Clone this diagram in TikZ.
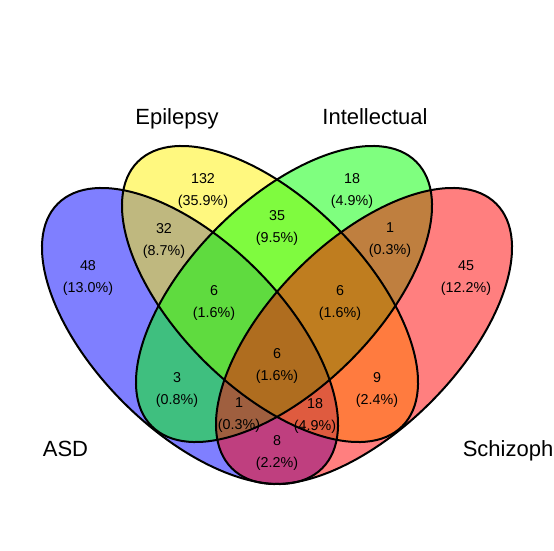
\documentclass[tikz,border=0pt]{standalone}
\usepackage{fontspec}
\setmainfont{Liberation Sans}
\usetikzlibrary{positioning}
\tikzset{venn/.style = {fill opacity=0.5},
         rim/.style = {line width=2pt},
         count/.style = {align=center, inner sep=0pt,
                         font=\fontsize{14.3}{22}\selectfont},
         setname/.style = {inner sep=0pt, anchor=base,
                           font=\fontsize{22}{27}\selectfont}}

\begin{document}
\begin{tikzpicture}[x=1pt, y=1pt]
    \fill [white] (0, 0) rectangle (554, 550);
    \useasboundingbox (0, 0) rectangle (554, 550);

    \fill [blue, venn, rotate around={-45:(190, 214)}] (190, 214) ellipse [x radius=187pt, y radius=94pt];
    \fill [yellow, venn, rotate around={-45:(270, 256)}] (270, 256) ellipse [x radius=187pt, y radius=94pt];
    \fill [green, venn, rotate around={45:(284, 256)}] (284, 256) ellipse [x radius=187pt, y radius=94pt];
    \fill [red, venn, rotate around={45:(364, 214)}] (364, 214) ellipse [x radius=187pt, y radius=94pt];

    \draw [rim, rotate around={-45:(190, 214)}] (190, 214) ellipse [x radius=187pt, y radius=94pt];
    \draw [rim, rotate around={-45:(270, 256)}] (270, 256) ellipse [x radius=187pt, y radius=94pt];
    \draw [rim, rotate around={45:(284, 256)}] (284, 256) ellipse [x radius=187pt, y radius=94pt];
    \draw [rim, rotate around={45:(364, 214)}] (364, 214) ellipse [x radius=187pt, y radius=94pt];

    \node [count] (asd) at (88, 272) {48\\(13.0\%)};
    \node [count] (epi) at (203, 359.5) {132\\(35.9\%)};
    \node [count] (int) at (352, 359.5) {18\\(4.9\%)};
    \node [count] (scz) at (466, 272) {45\\(12.2\%)};
    \node [count] (asdepi) at (164, 309.5) {32\\(8.7\%)};
    \node [count] (epiint) at (277, 322.5) {35\\(9.5\%)};
    \node [count] (intscz) at (390, 309.5) {1\\(0.3\%)};
    \node [count] (asdepiint) at (214, 247.5) {6\\(1.6\%)};
    \node [count] (epiintscz) at (340, 247.5) {6\\(1.6\%)};
    \node [count] (all) at (277, 184.5) {6\\(1.6\%)};
    \node [count] (asdint) at (177, 160.5) {3\\(0.8\%)};
    \node [count] (episcz) at (377, 160.5) {9\\(2.4\%)};
    \node [count] (asdintscz) at (239, 134.5) {1\\(0.3\%)};
    \node [count] (asdepiscz) at (315, 134.5) {18\\(4.9\%)};
    \node [count] (asdscz) at (277, 97) {8\\(2.2\%)};

    \node [setname] (epiname) at (177, 425) {Epilepsy};
    \node [setname] (intname) at (375, 425) {Intellectual};
    \node [setname] (asdname) at (65.5, 93.3) {ASD};
    \node [setname, anchor=base east] (sczname) at (553.5, 93.3) {Schizoph};
  \end{tikzpicture}
\end{document}
